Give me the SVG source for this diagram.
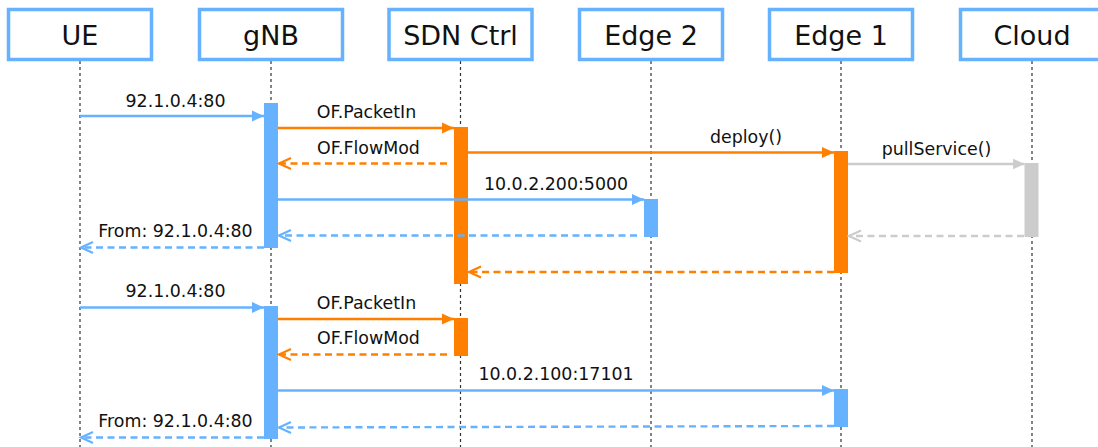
<svg xmlns="http://www.w3.org/2000/svg" width="1098" height="447" viewBox="0 0 1098 447">
  <style>
    .box { fill: #ffffff; stroke: #66B2FF; stroke-width: 3.5; }
    .head { font-family: "DejaVu Sans", Verdana, sans-serif; font-size: 27px; fill: #111; text-anchor: middle; }
    .lbl { font-family: "DejaVu Sans", Verdana, sans-serif; font-size: 17.4px; fill: #111; text-anchor: middle; }
    .life { stroke: #333; stroke-width: 1.2; stroke-dasharray: 3 3; fill: none; }
    .blue { stroke: #66B2FF; }
    .orange { stroke: #FF8000; }
    .gray { stroke: #CCCCCC; }
    .msg { stroke-width: 2.4; fill: none; }
    .ret { stroke-width: 2.4; fill: none; stroke-dasharray: 7 4.5; }
    .actB { fill: #66B2FF; }
    .actO { fill: #FF8000; }
    .actG { fill: #CCCCCC; }
  </style>
  <defs>
    <marker id="solidBlue" markerUnits="userSpaceOnUse" markerWidth="14" markerHeight="14" refX="12" refY="7" orient="auto">
      <path d="M0,1.5 L12,7 L0,12.5 Z" fill="#66B2FF"/>
    </marker>
    <marker id="solidOrange" markerUnits="userSpaceOnUse" markerWidth="14" markerHeight="14" refX="12" refY="7" orient="auto">
      <path d="M0,1.5 L12,7 L0,12.5 Z" fill="#FF8000"/>
    </marker>
    <marker id="solidGray" markerUnits="userSpaceOnUse" markerWidth="14" markerHeight="14" refX="12" refY="7" orient="auto">
      <path d="M0,1.5 L12,7 L0,12.5 Z" fill="#CCCCCC"/>
    </marker>
    <marker id="openBlue" markerUnits="userSpaceOnUse" markerWidth="16" markerHeight="16" refX="13" refY="8" orient="auto">
      <path d="M1,2.5 L13,8 L1,13.5" fill="none" stroke="#66B2FF" stroke-width="2.2"/>
    </marker>
    <marker id="openOrange" markerUnits="userSpaceOnUse" markerWidth="16" markerHeight="16" refX="13" refY="8" orient="auto">
      <path d="M1,2.5 L13,8 L1,13.5" fill="none" stroke="#FF8000" stroke-width="2.2"/>
    </marker>
    <marker id="openGray" markerUnits="userSpaceOnUse" markerWidth="16" markerHeight="16" refX="13" refY="8" orient="auto">
      <path d="M1,2.5 L13,8 L1,13.5" fill="none" stroke="#CCCCCC" stroke-width="2.2"/>
    </marker>
  </defs>

  <!-- participants -->
  <g id="ue">
    <line class="life" x1="80" y1="61" x2="80" y2="447"/>
    <rect class="box" x="8.5" y="9.5" width="143" height="50"/>
    <text class="head" x="80" y="45">UE</text>
  </g>
  <g id="gnb">
    <line class="life" x1="271" y1="61" x2="271" y2="447"/>
    <rect class="box" x="199.5" y="9.5" width="143" height="50"/>
    <text class="head" x="271" y="45">gNB</text>
  </g>
  <g id="sdn-ctrl">
    <line class="life" x1="460.5" y1="61" x2="460.5" y2="447"/>
    <rect class="box" x="389" y="9.5" width="143" height="50"/>
    <text class="head" x="460.5" y="45">SDN Ctrl</text>
  </g>
  <g id="edge2">
    <line class="life" x1="651" y1="61" x2="651" y2="447"/>
    <rect class="box" x="579.5" y="9.5" width="143" height="50"/>
    <text class="head" x="651" y="45">Edge 2</text>
  </g>
  <g id="edge1">
    <line class="life" x1="841" y1="61" x2="841" y2="447"/>
    <rect class="box" x="769.5" y="9.5" width="143" height="50"/>
    <text class="head" x="841" y="45">Edge 1</text>
  </g>
  <g id="cloud">
    <line class="life" x1="1032" y1="61" x2="1032" y2="447"/>
    <rect class="box" x="960.5" y="9.5" width="143" height="50"/>
    <text class="head" x="1032" y="45">Cloud</text>
  </g>

  <!-- activation bars -->
  <g id="activations">
    <rect class="actB" x="264" y="103" width="14" height="145"/>
    <rect class="actO" x="454" y="127" width="14" height="157"/>
    <rect class="actB" x="644" y="199" width="14" height="38"/>
    <rect class="actO" x="834" y="151" width="14" height="122"/>
    <rect class="actG" x="1024.5" y="163" width="14" height="74"/>
    <rect class="actB" x="264" y="306" width="14" height="133"/>
    <rect class="actO" x="454" y="318" width="14" height="38"/>
    <rect class="actB" x="834" y="389" width="14" height="38"/>
  </g>

  <!-- messages -->
  <g id="connectors">
    <line class="msg blue" x1="80" y1="116" x2="264" y2="116" marker-end="url(#solidBlue)"/>
    <line class="msg orange" x1="278" y1="128" x2="454" y2="128" marker-end="url(#solidOrange)"/>
    <line class="ret orange" x1="447" y1="163.5" x2="279" y2="163.5" marker-end="url(#openOrange)"/>
    <line class="msg orange" x1="468" y1="152.5" x2="834" y2="152.5" marker-end="url(#solidOrange)"/>
    <line class="msg gray" x1="848" y1="164" x2="1024.5" y2="164" marker-end="url(#solidGray)"/>
    <line class="msg blue" x1="278" y1="199.5" x2="644" y2="199.5" marker-end="url(#solidBlue)"/>
    <line class="ret blue" x1="637" y1="235.5" x2="279" y2="235.5" marker-end="url(#openBlue)"/>
    <line class="ret gray" x1="1024" y1="236" x2="849" y2="236" marker-end="url(#openGray)"/>
    <line class="ret blue" x1="264" y1="247.5" x2="81" y2="247.5" marker-end="url(#openBlue)"/>
    <line class="ret orange" x1="834" y1="272" x2="469" y2="272" marker-end="url(#openOrange)"/>

    <line class="msg blue" x1="80" y1="307.5" x2="264" y2="307.5" marker-end="url(#solidBlue)"/>
    <line class="msg orange" x1="278" y1="319" x2="454" y2="319" marker-end="url(#solidOrange)"/>
    <line class="ret orange" x1="447" y1="354.5" x2="279" y2="354.5" marker-end="url(#openOrange)"/>
    <line class="msg blue" x1="278" y1="390.5" x2="834" y2="390.5" marker-end="url(#solidBlue)"/>
    <line class="ret blue" x1="834" y1="426" x2="279" y2="427.5" marker-end="url(#openBlue)"/>
    <line class="ret blue" x1="264" y1="437.5" x2="81" y2="437.5" marker-end="url(#openBlue)"/>
  </g>

  <!-- message labels -->
  <g id="labels">
    <text class="lbl" x="175.5" y="106.5">92.1.0.4:80</text>
    <text class="lbl" x="366.5" y="118">OF.PacketIn</text>
    <text class="lbl" x="368.5" y="153.5">OF.FlowMod</text>
    <text class="lbl" x="746" y="142.5">deploy()</text>
    <text class="lbl" x="936.5" y="155">pullService()</text>
    <text class="lbl" x="556" y="189.5">10.0.2.200:5000</text>
    <text class="lbl" x="175.5" y="237">From: 92.1.0.4:80</text>

    <text class="lbl" x="175.5" y="297">92.1.0.4:80</text>
    <text class="lbl" x="366.5" y="308.5">OF.PacketIn</text>
    <text class="lbl" x="368.5" y="344">OF.FlowMod</text>
    <text class="lbl" x="556" y="379.5">10.0.2.100:17101</text>
    <text class="lbl" x="175.5" y="427">From: 92.1.0.4:80</text>
  </g>
</svg>
